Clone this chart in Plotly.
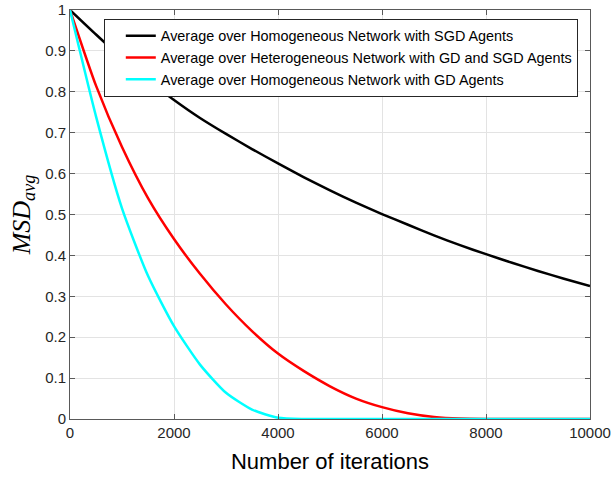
import plotly.graph_objects as go

iterations = [0, 500, 1000, 1500, 2000, 2500, 3000, 3500, 4000, 4500, 5000,
              5500, 6000, 6500, 7000, 7500, 8000, 8500, 9000, 9500, 10000]

msd_sgd = [1.0, 0.94, 0.882, 0.828, 0.78, 0.736, 0.697, 0.66, 0.625, 0.591, 0.559,
           0.529, 0.501, 0.475, 0.449, 0.425, 0.403, 0.382, 0.362, 0.343, 0.325]
msd_het = [1.0, 0.815, 0.665, 0.54, 0.44, 0.355, 0.28, 0.215, 0.16, 0.117, 0.08,
           0.05, 0.029, 0.014, 0.005, 0.001, 0.0, 0.0, 0.0, 0.0, 0.0]
msd_gd = [1.0, 0.74, 0.515, 0.35, 0.227, 0.133, 0.064, 0.023, 0.003, 0.0, 0.0,
          0.0, 0.0, 0.0, 0.0, 0.0, 0.0, 0.0, 0.0, 0.0, 0.0]

series_names = ["Average over Homogeneous Network with SGD Agents",
                "Average over Heterogeneous Network with GD and SGD Agents",
                "Average over Homogeneous Network with GD Agents"]
series_colors = ["#000000", "#FF0000", "#00FFFF"]

x_ticks = [0, 2000, 4000, 6000, 8000, 10000]
y_ticks = [0, 0.1, 0.2, 0.3, 0.4, 0.5, 0.6, 0.7, 0.8, 0.9, 1]

fig = go.Figure()
for name, ys, col in zip(series_names, [msd_sgd, msd_het, msd_gd], series_colors):
    fig.add_trace(go.Scatter(x=iterations, y=ys, mode="lines", name=name,
                             line=dict(color=col, width=2.5, shape="spline", smoothing=0.6)))

axis_common = dict(showline=True, linecolor="#595959", linewidth=1, mirror="ticks",
                   ticks="inside", ticklen=5, tickcolor="#595959", automargin=False,
                   showgrid=True, gridcolor="#e3e3e3", gridwidth=1, zeroline=False,
                   tickfont=dict(family="Liberation Sans, Arial", size=15, color="#262626"))

fig.update_xaxes(range=[0, 10000], tickvals=x_ticks,
                 ticktext=[str(v) for v in x_ticks],
                 title=dict(text="Number of iterations", standoff=13,
                            font=dict(family="Liberation Sans, Arial", size=22, color="#000000")),
                 **axis_common)
fig.update_yaxes(range=[0, 1], tickvals=y_ticks,
                 ticktext=["0", "0.1", "0.2", "0.3", "0.4", "0.5", "0.6", "0.7", "0.8", "0.9", "1"],
                 title=dict(text="<i>MSD</i><sub><i>avg</i></sub>", standoff=7,
                            font=dict(family="Liberation Serif, Times New Roman", size=26, color="#000000")),
                 **axis_common)

fig.update_layout(
    width=611, height=477,
    margin=dict(l=70, r=21, t=10, b=58),
    plot_bgcolor="white", paper_bgcolor="white",
    legend=dict(x=0.065, y=0.978, xanchor="left", yanchor="top",
                bgcolor="white", bordercolor="#262626", borderwidth=1,
                font=dict(family="Liberation Sans, Arial", size=14.4, color="#000000"),
                indentation=16, tracegroupgap=0),
)

fig.write_html("out.html", config={"displayModeBar": False},
               post_script="document.body.style.margin='0px';document.body.style.overflow='hidden';")
